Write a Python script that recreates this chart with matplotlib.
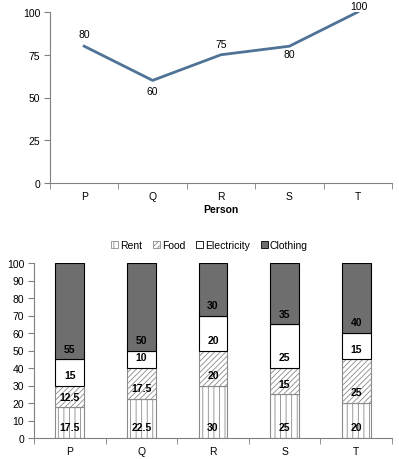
import matplotlib
matplotlib.use("Agg")
import matplotlib.pyplot as plt
from matplotlib.patches import Patch
import numpy as np

plt.rcParams['font.family'] = ['Liberation Sans', 'DejaVu Sans']
plt.rcParams['hatch.linewidth'] = 0.6
plt.rcParams['hatch.color'] = '#8a8a8a'

persons = ['P', 'Q', 'R', 'S', 'T']
totals = [80, 60, 75, 80, 100]
# label offsets (points) for the line chart labels
label_dy = [5, -4, 4, -2, 1]

rent = [17.5, 22.5, 30, 25, 20]
food = [12.5, 17.5, 20, 15, 25]
electricity = [15, 10, 20, 25, 15]
clothing = [55, 50, 30, 35, 40]

W, H = 399, 460
fig = plt.figure(figsize=(W / 100, H / 100), dpi=100)

axis_col = '#808080'
fs = 7.5


def style_axes(ax):
    for s in ['top', 'right']:
        ax.spines[s].set_visible(False)
    for s in ['left', 'bottom']:
        ax.spines[s].set_color(axis_col)
        ax.spines[s].set_linewidth(0.8)
    ax.set_xlim(-0.5, len(persons) - 0.5)
    ax.set_xticks(np.arange(len(persons)))
    ax.set_xticklabels(persons)
    ax.set_xticks(np.arange(len(persons) + 1) - 0.5, minor=True)
    ax.tick_params(axis='x', which='major', length=0, pad=6, labelsize=fs)
    ax.tick_params(axis='x', which='minor', length=4, color=axis_col, direction='out')
    ax.tick_params(axis='y', length=4, color=axis_col, labelsize=fs, pad=3)


# top line chart
ax1 = fig.add_axes([50 / W, (H - 184) / H, (392 - 50) / W, (184 - 13) / H])
x = np.arange(len(persons))
ax1.plot(x, totals, color='#4f7396', lw=2)
ax1.set_ylim(0, 100)
ax1.set_yticks([0, 25, 50, 75, 100])
style_axes(ax1)
ax1.set_xlabel('Person', fontsize=fs, fontweight='bold', labelpad=2)
for xi, v, dy in zip(x, totals, label_dy):
    va = 'bottom' if dy > 0 else 'top'
    ax1.annotate(str(v), (xi, v), xytext=(1 if v == 100 else 0, dy),
                 textcoords='offset points', ha='center', va=va, fontsize=fs)

# bottom stacked bars
ax2 = fig.add_axes([34 / W, (H - 439) / H, (392 - 34) / W, (439 - 264) / H])
series = [
    ('Rent', rent, dict(facecolor='white', edgecolor='#8a8a8a', hatch='|||')),
    ('Food', food, dict(facecolor='white', edgecolor='#8a8a8a', hatch='//////')),
    ('Electricity', electricity, dict(facecolor='white', edgecolor='black')),
    ('Clothing', clothing, dict(facecolor='#6e6e6e', edgecolor='black')),
]
bottom = np.zeros(len(persons))
handles = []
for name, vals, st in series:
    vals = np.array(vals, dtype=float)
    ax2.bar(x, vals, 0.4, bottom=bottom, linewidth=0.8, **st)
    for xi, b, v in zip(x, bottom, vals):
        ax2.text(xi, b + 6, '%g' % v, ha='center', va='center', fontsize=fs,
                 fontweight='bold')
    handles.append(Patch(label=name, linewidth=0.6, **st))
    bottom += vals
ax2.set_ylim(0, 100)
ax2.set_yticks(np.arange(0, 101, 10))
style_axes(ax2)
ax2.legend(handles=handles, loc='lower center', bbox_to_anchor=(0.49, 1.05),
           ncol=4, frameon=False, fontsize=fs, handlelength=0.7,
           handleheight=0.7, handletextpad=0.2, columnspacing=1.0,
           borderaxespad=0.0)

fig.savefig('out.png', dpi=100)
